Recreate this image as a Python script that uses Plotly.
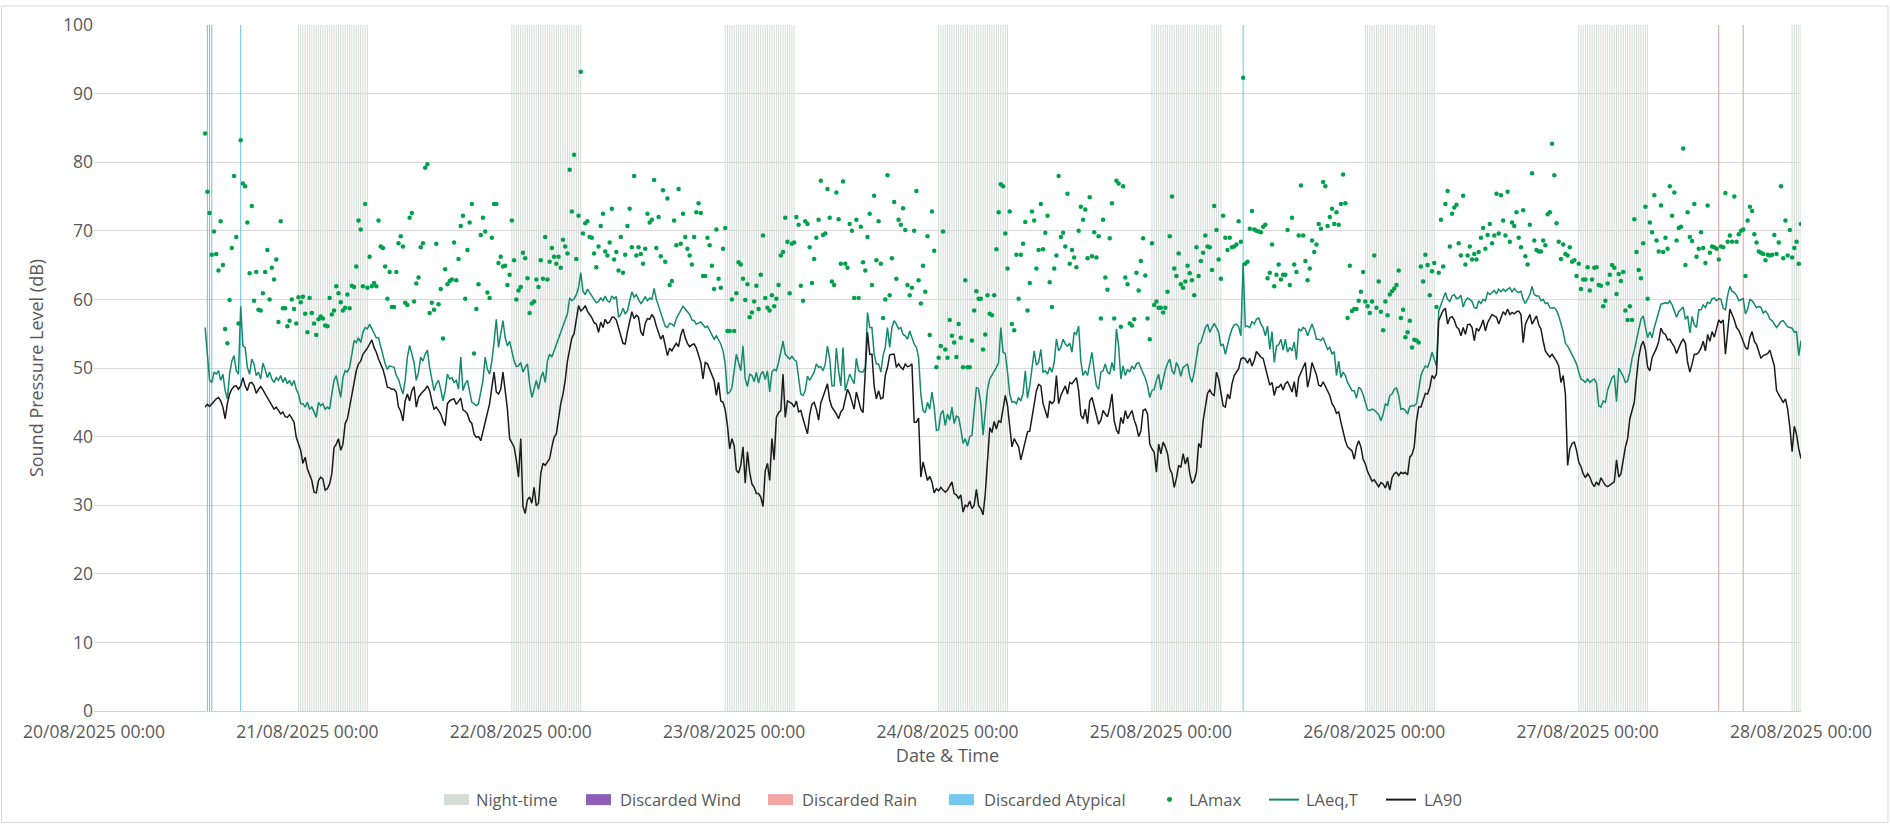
import pandas as pd
import plotly.graph_objects as go

# 15-minute logging interval, first sample 20/08/2025 12:30
START = "2025-08-20 12:30"
STEP = "15min"

LAEQ = [
    # 20/08 12:30 -> 21/08 10:15
    55.9, 52, 48.2, 47.9, 49.4, 49.1, 49.6, 48.2, 49.1, 46.7,
    45.5, 49.1, 51, 51.8, 49.6, 49.1, 59, 53.2, 53, 50.1,
    49.1, 51.3, 50.6, 48.9, 49.4, 48.4, 50.7, 49.8, 48.6, 49.4,
    48.4, 47.9, 48.6, 48.2, 48.9, 47.9, 48.6, 47.7, 48.2, 47.4,
    48.2, 46.9, 46.2, 44.8, 44.8, 44.3, 45, 44, 44.3, 43.6,
    42.8, 45, 44.5, 44.8, 44, 44.3, 44, 46.2, 48.2, 48.9,
    47.4, 45.7, 48.6, 49.6, 49.4, 50.1, 52, 54, 53.7, 54.4,
    53.7, 55.2, 55.9, 55.7, 56.4, 55.7, 54.9, 54.4, 54.4, 53,
    52, 50.6, 49.8, 50.3, 50.2, 50.1, 48.9, 48.4,
    # 21/08 10:30 ->
    47.2, 46.2, 48.2, 51.6, 53.3, 52, 50.8, 48.2, 49.4, 51.6,
    51, 52, 52.6, 50.1, 48.6, 46.7, 47.7, 48.2, 46.9, 45.2,
    46.7, 49.1, 48.4, 48.6, 47.9, 48.2, 46.9, 51.6, 46.7, 47.7,
    48.2, 46.7, 45, 44.8, 44.5, 44.8, 46.7, 48.2, 51.6, 49.8,
    49.1, 51, 53.8, 57.1, 53, 54.9, 56.9, 54.4, 53.2, 53.9,
    52.5, 51, 50.2, 50.3, 50.8, 49.4, 50.1, 50.6, 47.7, 45.7,
    46.9, 48.2, 46.9, 48.6, 49.4, 47.9, 51, 52, 51.6, 52.5,
    53.2, 54.2, 54.9, 56.1, 56.9, 57.9, 60.2, 59.8, 60.1, 60.7,
    61.7, 63.9, 61.2, 60.7, 61.5, 61, 60.4, 59.8, 59.5, 59.7,
    # 22/08 09:00 ->
    60.2, 59.8, 60.5, 59.8, 59.6, 60.5, 60.1, 60.4, 57.4, 57.8,
    58.7, 57.9, 58.3, 59.8, 61.1, 60.3, 60.7, 60, 59.4, 59.8,
    60.4, 59.8, 60.2, 60, 61.6, 60, 59, 58.1, 57, 56.1,
    55.9, 56.5, 56.4, 56.1, 57.2, 57.8, 58.5, 59, 58.6, 58.2,
    57.8, 57, 56.9, 56.4, 56.5, 56.7, 56.3, 55.9, 56.1, 55.4,
    54.8, 54.2, 54.7, 54, 53.5, 52.5, 50.6, 46.2, 46.5, 47.1,
    49.6, 52, 50.8, 49.6, 53.2, 48.4, 47.3, 49.1, 48.9, 48,
    49.4, 47.8, 49.1, 49.5, 48.3, 49.6, 46.5, 49.4, 49.8, 49.6,
    50.8, 52.5, 53.9, 52, 51.6, 51.3, 51.7, 51.2, 51, 48.6,
    # 23/08 07:30 ->
    46.2, 46, 46.7, 48.8, 48.2, 48.8, 49.4, 50.6, 50.1, 50.2,
    49.6, 50.6, 53.2, 51.4, 47.4, 47.4, 52.9, 49.6, 47.4, 53,
    46.7, 47.9, 49.1, 48.4, 47.7, 51.4, 49.6, 49.4, 49.4, 50.1,
    58.1, 55.9, 55.9, 52, 50.6, 50.6, 49.4, 51.8, 53, 55.9,
    53, 55.9, 56.9, 56.4, 55.7, 55.9, 54.9, 54.7, 54.2, 55.4,
    54.4, 53.5, 53, 51.5, 46.2, 43.8, 43.5, 45, 44, 46.5,
    44.3, 40.9, 41, 43.3, 43.8, 41.6, 43.3, 42.4, 44.3, 41.9,
    43, 42.8, 41.1, 39, 39.7, 38.6, 40, 40.2, 43.8, 47.2,
    46.9, 44.8, 40.2, 43.8, 46.9, 48.4, 48.9, 49.6, 50.1, 50.8,
    # 24/08 06:00 ->
    55.9, 52.3, 52.1, 49.4, 46.2, 45, 45.1, 44.8, 45.7, 45.2,
    46.3, 49.6, 45.6, 47.4, 50.1, 52.5, 50.4, 50.8, 52.7, 49.4,
    49.6, 49.1, 50.1, 49.4, 50.8, 54.2, 52.5, 53, 54.2, 53.5,
    53.2, 53.6, 52.3, 55.2, 54.9, 56.1, 51, 48.9, 49.6, 48.9,
    50.6, 52.3, 49.6, 47.4, 46.9, 49.4, 49.6, 50.6, 49.4, 49.1,
    50.8, 49.6, 55.7, 53.2, 48.4, 50.3, 48.9, 49.8, 49.4, 50.3,
    49.8, 50.6, 50.8, 50.1, 49.4, 48.5, 47.4, 45.7, 46.7, 46.9,
    48.2, 49.1, 46.8, 48.5, 49.7, 50.7, 51.3, 49.6, 49.1, 50.8,
    50.1, 48.8, 50.1, 50.3, 50.6, 48.8, 47.9, 49.4, 51.5, 53.5,
    # 25/08 04:30 ->
    53.7, 54.7, 55.9, 56.4, 55.2, 55.9, 56.5, 55.9, 55.2, 53.2,
    53.5, 52, 53.6, 54.7, 55.7, 56.3, 56.4, 56, 54.7, 65.3,
    56, 56.1, 55.9, 56.8, 56.4, 57.1, 57.3, 56.4, 55.9, 54.7,
    56.1, 52.7, 55.3, 50.8, 53.2, 53.4, 54.2, 52.6, 54.2, 52.3,
    53, 52.5, 53.8, 51.2, 55.7, 55.4, 55.9, 55.7, 54.7, 55.7,
    56.4, 55.5, 54.2, 54.2, 54, 54.4, 53.5, 52.7, 53, 52,
    52.4, 48.9, 51, 48.6, 49.4, 48.9, 47.9, 47.3, 46.7, 46.7,
    45.6, 47.2, 46.9, 46.1, 44.8, 43.9, 43.8, 44, 43.9, 43.5,
    43.2, 42.3, 43.3, 44.8, 44.5, 46, 46.2, 46.9, 47.1, 46,
    # 26/08 03:00 ->
    44, 44.1, 43.8, 43.3, 44.4, 44.5, 44.5, 44.8, 47.2, 48.9,
    49.7, 50.3, 50.1, 51, 52.3, 51.3, 50.3, 58.3, 59.2, 60.1,
    61, 60, 59.7, 60.5, 60.7, 60.1, 60.2, 60.6, 58.9, 59.8,
    60.2, 60, 59.7, 58.8, 58.7, 59.8, 59.4, 60, 59.8, 61,
    60.7, 61, 61.3, 60.8, 61.5, 61.1, 61.5, 61.2, 61.5, 61.7,
    61.1, 61.6, 61.2, 61, 61.2, 60, 59.4, 60.1, 60.7, 61.9,
    60.7, 60.5, 60.5, 59.8, 60, 59.4, 59.5, 58.8, 58.7, 58.8,
    58.4, 57.6, 56.5, 55.3, 53.6, 53.2, 52.6, 52, 51.4, 50.6,
    49.4, 48.4, 48.2, 47.9, 48.4, 47.9, 48.2, 48.4, 47.8, 44.5,
    # 27/08 01:30 -> 28/08 00:00
    44.3, 45.2, 45, 46.8, 47.7, 48.6, 48.9, 45.1, 50, 49.4,
    48.8, 47.9, 48.1, 49.4, 51.4, 52.6, 54.2, 55.9, 57.1, 57.6,
    55.7, 54.4, 55.3, 54.4, 55.9, 57.1, 58.3, 59.3, 59.4, 59.5,
    59.4, 59.8, 59.2, 58.4, 57.4, 58.2, 58.5, 58.9, 57.1, 57.6,
    55.1, 57.5, 56.3, 55.9, 58.5, 58.5, 59.2, 58.8, 59.6, 59.4,
    60.1, 60.2, 59.8, 60.1, 60, 58.7, 58.5, 60.6, 61.9, 61.2,
    61, 60.6, 59.8, 60, 60.1, 57.9, 58.6, 60, 59.8, 59.3,
    58.8, 59, 58.8, 58, 58.3, 57.9, 57.1, 56.9, 56.3, 55.9,
    56.3, 56.8, 56.9, 56.5, 56, 55.9, 55.8, 55.2, 55.3, 51.8,
    54,
]

LA90 = [
    44.3, 44.7, 44.4, 44.8, 45.2, 45.5, 45.7, 45.2, 44.3, 42.6,
    44.8, 46.2, 46.9, 47.3, 47.4, 46.9, 47.4, 48.6, 47.4, 46.7,
    47.8, 47.9, 47.4, 46.3, 46.9, 47.3, 46.8, 46.2, 45.6, 45,
    44.5, 44, 44.3, 43.8, 43.3, 43.6, 42.9, 42.8, 43.2, 42.7,
    42.1, 39.9, 39, 38, 36.1, 37, 35.3, 34.4, 33.6, 31.9,
    31.8, 33.6, 34.1, 33.8, 32.2, 32.4, 33.1, 34.6, 38.4, 38.9,
    39.7, 38, 38.9, 41.9, 42.6, 44.3, 46.2, 48.2, 49.6, 50.6,
    51, 52, 52.4, 52.9, 53.5, 54.1, 53, 52.3, 51.3, 50.6,
    49.8, 48.6, 47.2, 47.1, 46.9, 46.9, 46.5, 44.3,
    43.7, 42.3, 45.2, 46.2, 45.2, 46.7, 47.3, 44.3, 45.7, 46.2,
    46.5, 46.9, 47.4, 46.7, 45.2, 44, 44.3, 43.8, 43.3, 42.3,
    41.6, 44.8, 45.2, 45.4, 45.5, 44.7, 45.2, 45.6, 43.9, 43.7,
    43.3, 42.3, 41.9, 40.4, 39.9, 40, 39.4, 40.8, 42.3, 43.6,
    44.8, 47.2, 49.4, 46.5, 46.2, 46.9, 49.4, 46.7, 44, 39.7,
    39, 38.5, 36.6, 34.1, 39.7, 29.8, 28.8, 30.8, 31.2, 30.3,
    32.6, 29.9, 30.3, 34.6, 36.1, 35.8, 36.3, 36.8, 38.5, 39.9,
    40.4, 42.8, 44.8, 46.2, 48.2, 51, 53, 54.4, 55, 56.9,
    59.1, 58.3, 58.6, 59.1, 58.3, 57.8, 57.3, 56.6, 56.4, 55.2,
    56.7, 55.9, 57.1, 56.5, 56.7, 57.4, 57.4, 57, 55.7, 54.7,
    53.6, 53.5, 55.3, 56.7, 58.2, 57.2, 57.7, 57.4, 55.3, 54.7,
    56.5, 57.2, 57.1, 57.8, 57.3, 56.1, 55, 54.2, 54.8, 53.5,
    51.8, 52.9, 52.5, 53.1, 53.6, 53.1, 54.8, 55.7, 54.4, 53.6,
    53.1, 53.4, 53.5, 52.9, 52, 50.8, 48.4, 50.8, 50.6, 49.7,
    49.1, 48.2, 46, 47.9, 45.2, 45, 43.9, 41.6, 38.2, 39.7,
    38.7, 35.1, 34.7, 35.8, 38.5, 33.2, 37.8, 34.8, 33.1, 32.6,
    31.7, 31.7, 31.2, 29.8, 35, 36.1, 33.6, 39.7, 36.6, 42.8,
    43.5, 43.8, 49.1, 42.8, 45.2, 45, 44.8, 44.3, 45.2, 43.6,
    43.8, 42.6, 41.6, 40.4, 43.2, 44.7, 45, 44, 42.4, 44.9,
    45.8, 46.8, 47.7, 45.3, 44.3, 43.8, 43.3, 42.6, 43.6, 44,
    45.7, 46.9, 46.2, 45.2, 44, 46.5, 45.2, 44, 43.5, 49.1,
    55.2, 52, 52, 47.4, 45.5, 46.7, 45.5, 45.7, 48.9, 50.1,
    51.9, 52, 52, 50.1, 50.6, 50.1, 49.8, 50.6, 50.2, 50.3,
    50.6, 42.1, 42.1, 42.7, 34.1, 36.3, 35.1, 33.6, 34.2, 33.4,
    31.8, 32.4, 32.1, 32.6, 32.2, 31.9, 32.2, 32.8, 33.4, 31.7,
    31.5, 31, 31.5, 29, 30, 29.8, 30.6, 29.5, 30, 32.3,
    29.9, 29.5, 28.6, 31.7, 36.3, 41.3, 40.6, 42.2, 41.1, 42.3,
    42.1, 43.8, 46, 44.5, 40.9, 38.5, 39.7, 39, 38.5, 36.6,
    38.1, 39.5, 40.7, 40.8, 42.6, 44.5, 46.7, 47.6, 47.4, 44.8,
    43.8, 42.7, 45.2, 44.8, 45.2, 48.9, 44.8, 46, 46.7, 47.4,
    46.2, 47.9, 47.7, 48.2, 48.6, 46.7, 43.1, 42.6, 44, 41.9,
    45.2, 45.7, 44.3, 42.8, 41.8, 42.4, 43.8, 43.3, 42.9, 44.3,
    46.2, 42.3, 41, 40.4, 42.8, 41.9, 43.8, 42.6, 43.3, 43.8,
    42.4, 41.5, 40, 40.8, 43.8, 44, 43.3, 38.9, 38.2, 37.7,
    34.8, 38.9, 37.5, 39.2, 38.5, 37.5, 35.3, 34.6, 32.6, 33.9,
    35.8, 35.5, 37.5, 36, 37, 34.6, 33.2, 33.6, 34.8, 39,
    38.4, 42.3, 44.3, 46.3, 46.8, 46.2, 46, 49.4, 48.4, 46.7,
    44.5, 44.3, 46.2, 45.5, 47.7, 48.9, 49.4, 49.9, 51.3, 51.5,
    51.3, 50.7, 51.4, 50.3, 51.1, 52.4, 52, 51.6, 51.4, 50.1,
    48.5, 47.5, 47.9, 46, 47.2, 47.2, 47.6, 46.8, 47.7, 48,
    47.3, 46.5, 48, 45.8, 48.6, 49.4, 50, 50.8, 47.2, 48.6,
    50.8, 49.8, 49, 47.5, 47.3, 48, 47.3, 46.5, 46, 44.8,
    44.3, 43.4, 43.6, 42.1, 40.6, 39.4, 38.5, 38.2, 37.9, 36.7,
    38.5, 39.4, 38.5, 36.7, 36, 34.9, 34.3, 33.5, 33.7, 33.2,
    32.7, 33.3, 33.1, 32.5, 33.5, 32.2, 34, 34.6, 34.8, 34.3,
    34.8, 34.6, 34.8, 34.4, 37, 37.4, 38.5, 42.3, 44.3, 44.3,
    45.2, 46.3, 46.2, 47.2, 48.9, 48.5, 49.1, 56.9, 57.7, 58.4,
    58.7, 56.4, 57.3, 57.5, 57, 56, 55.7, 54.7, 55.9, 54.9,
    56.3, 56.4, 55.9, 54, 55.8, 55.4, 56.1, 57, 55.4, 56.6,
    57.2, 57.8, 57.6, 57.4, 56.4, 57.3, 58.2, 57.8, 58.6, 57.8,
    58.1, 57.9, 58.2, 58.3, 57.8, 53.7, 56.4, 57.1, 57.8, 56.4,
    56.9, 57.6, 56.3, 55.7, 53.9, 52.5, 52, 51.6, 52, 51.5,
    51, 50.3, 47.9, 48.9, 46.2, 35.8, 38.2, 39, 39.2, 38,
    36.3, 35.6, 34.6, 34, 34.6, 34.1, 33.2, 32.7, 33.4, 32.9,
    34, 33.4, 32.9, 32.7, 32.9, 33.2, 33.4, 36.6, 34.1, 34.6,
    36.8, 38.5, 39.7, 42.6, 43.8, 45, 48.6, 51.6, 53.2, 53.9,
    52.7, 50.1, 49.6, 51.5, 52.2, 52.9, 53.9, 55.8, 55.1, 54.9,
    54.1, 54.2, 53.6, 53.1, 52.1, 53, 53.7, 54.2, 53.6, 50.8,
    49.4, 50.6, 52, 52, 52.3, 52.9, 53.9, 52.5, 54.9, 53.9,
    55.3, 54.5, 55.9, 57, 56.6, 57, 52, 55.6, 58.6, 57.8,
    57, 55.9, 55.5, 54.7, 53.9, 53, 52.7, 54.5, 55.3, 53.9,
    53.4, 52.5, 51.4, 51.8, 52, 52.1, 52.6, 51.5, 50.3, 46.7,
    46.2, 45.7, 45, 45.5, 44, 41.3, 37.8, 41.5, 40.3, 38.2,
    36.8,
]

LAMAX = [
    84.2, 75.7, 72.6, 66.5, 69.9, 66.6, 64.2, 71.4, 65.0, 55.7,
    53.6, 59.9, 67.5, 78.0, 69.1, 56.5, 83.2, 76.9, 76.5, 71.2,
    63.8, 73.6, 59.8, 64.0, 58.5, 58.4, 60.9, 64.0, 67.2, 60.0,
    64.6, 62.9, 65.8, 56.7, 71.4, 58.7, 58.7, 56.1, 56.9, 60.0,
    58.6, 56.5, 60.3, 59.6, 60.4, 57.9, 55.2, 60.2, 58.0, 56.5,
    54.8, 57.1, 57.5, 57.2, 56.2, 56.1, 60.2, 57.8, 58.4, 61.9,
    60.9, 59.6, 58.4, 58.8, 60.7, 58.7, 62.0, 61.8, 64.8, 71.5,
    70.2, 61.9, 73.9, 61.7, 66.2, 61.9, 62.4, 61.9, 71.5, 67.7,
    67.5, 64.8, 60.1, 64.0, 58.9, 58.9, 64.0, 68.2,
    69.2, 67.7, 59.5, 59.2, 71.9, 72.6, 59.7, 62.3, 63.2, 67.6,
    68.2, 79.2, 79.7, 58.0, 59.5, 58.5, 68.1, 59.3, 61.5, 54.3,
    64.4, 62.2, 62.7, 62.9, 68.3, 62.8, 65.9, 70.7, 72.2, 60.1,
    67.2, 71.2, 73.9, 52.1, 58.6, 62.2, 69.4, 71.9, 69.9, 61.0,
    60.2, 69.0, 73.9, 73.9, 65.3, 66.2, 64.8, 64.9, 62.1, 63.6,
    71.5, 65.7, 60.0, 61.3, 61.8, 66.8, 66.0, 63.1, 58.0, 59.4,
    59.7, 62.9, 61.8, 65.7, 63.0, 69.1, 62.9, 65.5, 67.5, 66.2,
    65.2, 66.2, 64.6, 68.7, 67.7, 66.7, 78.9, 72.8, 81.1, 65.9,
    72.2, 93.2, 69.6, 71.1, 71.4, 69.1, 69.0, 66.7, 64.7, 67.7,
    70.7, 72.5, 67.0, 66.4, 68.3, 73.2, 65.8, 66.9, 64.2, 69.1,
    63.9, 66.5, 70.7, 73.2, 67.6, 78.0, 66.4, 67.6, 66.6, 65.2,
    67.4, 72.5, 71.2, 71.6, 77.4, 67.5, 72.0, 66.3, 75.9, 65.5,
    74.7, 62.1, 62.7, 71.5, 67.9, 76.1, 68.1, 72.5, 69.1, 67.4,
    66.4, 65.1, 69.1, 72.7, 74.0, 72.6, 63.4, 63.4, 69.0, 67.9,
    64.9, 61.5, 70.2, 63.0, 61.7, 67.4, 70.4, 55.4, 55.4, 60.0,
    55.4, 60.9, 65.4, 65.1, 63.0, 59.9, 62.2, 57.4, 58.1, 59.7,
    62.0, 58.6, 63.6, 69.3, 60.2, 58.8, 58.4, 60.6, 59.0, 60.1,
    62.1, 66.4, 66.9, 71.9, 68.4, 60.9, 68.1, 68.3, 72.0, 70.9,
    62.0, 59.8, 71.4, 71.0, 67.6, 62.4, 65.9, 69.0, 71.6, 77.3,
    69.4, 69.6, 76.1, 71.9, 62.6, 62.1, 75.6, 71.7, 65.2, 77.2,
    65.2, 64.6, 71.0, 70.0, 60.2, 71.6, 60.2, 70.6, 65.4, 64.2,
    69.1, 72.5, 62.1, 75.1, 65.7, 71.4, 65.2, 57.3, 60.0, 78.1,
    60.6, 66.0, 74.2, 63.0, 71.6, 70.9, 73.3, 70.1, 62.1, 60.6,
    61.7, 70.0, 75.8, 62.8, 59.4, 64.9, 61.1, 69.2, 54.8, 72.8,
    67.1, 50.1, 51.5, 53.2, 69.9, 52.7, 51.5, 57.0, 54.7, 53.7,
    51.6, 56.4, 54.4, 50.1, 62.8, 50.1, 50.1, 54.0, 58.4, 61.2,
    60.1, 60.1, 52.7, 54.9, 60.6, 57.9, 57.7, 60.6, 67.3, 72.7,
    76.8, 76.5, 69.6, 64.5, 72.8, 56.4, 55.5, 66.5, 60.1, 66.5,
    68.1, 71.3, 58.4, 62.4, 72.8, 71.5, 64.5, 67.2, 73.9, 67.3,
    69.7, 72.2, 62.5, 58.9, 64.5, 66.4, 78.0, 69.1, 69.7, 67.7,
    75.4, 65.2, 67.2, 66.1, 64.7, 70.0, 73.5, 71.6, 73.1, 66.0,
    74.9, 66.3, 69.8, 66.1, 69.2, 57.2, 71.6, 63.2, 61.4, 68.9,
    74.0, 57.2, 77.3, 76.9, 56.0, 76.5, 63.2, 62.2, 56.5, 56.2,
    57.1, 63.9, 61.3, 65.6, 68.9, 63.5, 57.2, 54.2, 68.2, 59.2,
    59.7, 58.8, 58.8, 58.1, 58.8, 61.1, 69.2, 75.0, 64.5, 63.4,
    66.7, 62.2, 61.7, 62.6, 64.9, 63.8, 62.8, 60.6, 67.6, 63.4,
    65.6, 66.8, 69.3, 67.7, 67.6, 64.3, 73.6, 70.1, 65.8, 63.0,
    72.2, 69.0, 67.2, 69.0, 67.6, 67.7, 68.0, 71.4, 68.4, 92.3,
    65.2, 65.5, 70.3, 72.9, 70.2, 70.0, 69.9, 69.8, 70.6, 70.9,
    63.1, 63.9, 68.0, 61.9, 63.6, 65.1, 62.9, 63.6, 63.6, 70.1,
    62.1, 71.9, 65.1, 64.0, 69.3, 76.6, 69.3, 65.6, 62.8, 64.5,
    68.6, 66.9, 68.0, 71.0, 70.3, 77.1, 76.5, 70.7, 72.0, 73.2,
    71.0, 72.7, 70.9, 73.9, 78.2, 74.0, 57.3, 64.9, 58.3, 58.6,
    58.6, 59.8, 61.1, 64.0, 59.7, 59.0, 58.0, 59.7, 66.4, 58.8,
    62.6, 58.2, 55.5, 59.7, 57.7, 60.7, 61.2, 61.6, 62.1, 64.2,
    57.3, 58.5, 54.5, 55.2, 56.9, 53.0, 54.1, 54.0, 53.7, 64.8,
    62.6, 66.5, 65.0, 60.6, 64.1, 65.3, 58.9, 63.9, 71.6, 64.8,
    73.9, 75.8, 67.7, 72.5, 73.4, 73.8, 68.2, 66.4, 75.1, 65.1,
    66.4, 67.7, 65.8, 66.6, 65.8, 66.9, 69.0, 70.4, 67.4, 69.4,
    71.0, 68.2, 69.3, 75.4, 69.6, 75.2, 71.5, 69.3, 75.7, 68.4,
    71.2, 70.7, 72.7, 69.0, 67.6, 73.0, 66.3, 65.1, 70.9, 78.4,
    68.6, 67.2, 67.0, 67.0, 68.6, 67.9, 72.4, 72.7, 82.7, 78.1,
    71.1, 68.4, 65.9, 68.0, 66.6, 66.4, 67.6, 65.5, 65.7, 63.4,
    65.2, 61.5, 62.9, 62.9, 64.7, 61.3, 62.9, 64.6, 64.7, 62.1,
    62.0, 59.0, 59.8, 62.3, 63.6, 65.0, 64.6, 60.8, 63.7, 62.7,
    64.0, 58.4, 57.0, 59.0, 57.0, 71.7, 66.9, 64.3, 63.1, 68.2,
    73.5, 60.1, 71.2, 69.8, 75.2, 68.6, 67.0, 73.7, 66.9, 69.0,
    67.4, 76.5, 72.2, 75.6, 68.6, 70.4, 70.6, 82.0, 65.0, 72.7,
    69.1, 68.5, 73.9, 66.2, 67.4, 69.8, 67.5, 65.3, 73.7, 66.8,
    67.7, 67.6, 67.4, 65.8, 67.7, 67.6, 75.5, 68.4, 69.3, 68.4,
    75.0, 68.4, 69.5, 70.0, 70.2, 63.4, 71.5, 73.5, 72.9, 69.5,
    68.3, 67.0, 66.8, 66.6, 65.7, 66.5, 66.4, 66.5, 69.4, 66.6,
    68.3, 76.5, 66.0, 71.5, 66.4, 70.1, 66.1, 67.5, 68.4, 65.2,
    71.0,
]

# flagged periods (one column per 15-minute interval)
DISCARDED_WIND = []
DISCARDED_RAIN = ["2025-08-27 14:45", "2025-08-27 17:30"]
DISCARDED_ATYPICAL = ["2025-08-20 12:45", "2025-08-20 13:00", "2025-08-20 13:15",
                      "2025-08-20 16:30", "2025-08-25 09:15"]
NIGHT_FROM, NIGHT_TO = 23, 7

assert len(LAEQ) == len(LA90) == len(LAMAX), (len(LAEQ), len(LA90), len(LAMAX))

times = pd.date_range(START, periods=len(LAEQ), freq=STEP)
night = [t for t in times if t.hour >= NIGHT_FROM or t.hour < NIGHT_TO]

FONT = "Open Sans"
GREY = "#595959"
C_NIGHT, C_WIND, C_RAIN, C_ATYP = "#d3dcd6", "#8e5eb8", "#f2a5a5", "#74c8ee"
C_MAX, C_EQ, C_90 = "#00a14b", "#138a6c", "#1b1b1b"


def flag_lines(xs, color, width=1):
    # thin full-height columns, one per flagged 15-minute interval
    lx, ly = [], []
    for t in pd.to_datetime(xs):
        lx += [t, t, None]
        ly += [0, 100, None]
    return go.Scatter(x=lx, y=ly, mode="lines", line=dict(color=color, width=width),
                      hoverinfo="skip", showlegend=False)


fig = go.Figure()
fig.add_trace(flag_lines(night, C_NIGHT))
fig.add_trace(flag_lines(DISCARDED_WIND, C_WIND))
fig.add_trace(flag_lines(DISCARDED_RAIN, "#e59c9c"))
fig.add_trace(flag_lines(DISCARDED_ATYPICAL, "#6bc3ec", 1))
fig.add_trace(go.Scatter(x=times, y=LAMAX, name="LAmax", mode="markers",
                         marker=dict(color=C_MAX, size=4.5), showlegend=False))
fig.add_trace(go.Scatter(x=times, y=LAEQ, name="LAeq,T", mode="lines",
                         line=dict(color=C_EQ, width=1.5), showlegend=False))
fig.add_trace(go.Scatter(x=times, y=LA90, name="LA90", mode="lines",
                         line=dict(color=C_90, width=1.5), showlegend=False))

W, H = 1890, 826
L, R, T, B = 94, 89, 22, 115
pw, ph = W - L - R, H - T - B


def px(x):
    return (x - L) / pw


def py(y):
    return (T + ph - y) / ph


# legend drawn as swatches + labels below the axis title
LEG_Y = 800
legend_items = [
    ("Night-time", "box", C_NIGHT, 444, 474),
    ("Discarded Wind", "box", C_WIND, 586, 618),
    ("Discarded Rain", "box", C_RAIN, 768, 800),
    ("Discarded Atypical", "box", C_ATYP, 949, 982),
    ("LAmax", "dot", C_MAX, 1158, 1187),
    ("LAeq,T", "line", C_EQ, 1269, 1304),
    ("LA90", "line", C_90, 1386, 1422),
]
shapes = [dict(type="rect", xref="paper", yref="paper",
               x0=px(1.5), x1=px(1888), y0=py(823), y1=py(3),
               line=dict(color="#d9d9d9", width=1), layer="below")]
annotations = []
for label, kind, color, x_sym, x_txt in legend_items:
    if kind == "box":
        shapes.append(dict(type="rect", xref="paper", yref="paper",
                           x0=px(x_sym), x1=px(x_sym + 25),
                           y0=py(LEG_Y + 5.5), y1=py(LEG_Y - 5.5),
                           fillcolor=color, line=dict(width=0)))
    elif kind == "dot":
        shapes.append(dict(type="circle", xref="paper", yref="paper",
                           x0=px(x_sym + 9), x1=px(x_sym + 14),
                           y0=py(LEG_Y + 2.5), y1=py(LEG_Y - 2.5),
                           fillcolor=color, line=dict(width=0)))
    else:
        shapes.append(dict(type="line", xref="paper", yref="paper",
                           x0=px(x_sym), x1=px(x_sym + 30),
                           y0=py(LEG_Y), y1=py(LEG_Y),
                           line=dict(color=color, width=2)))
    annotations.append(dict(text=label, xref="paper", yref="paper",
                            x=px(x_txt), y=py(LEG_Y), xanchor="left", yanchor="middle",
                            showarrow=False, font=dict(size=16.5, color=GREY)))

fig.update_layout(
    width=W, height=H,
    margin=dict(l=L, r=R, t=T, b=B),
    paper_bgcolor="white", plot_bgcolor="white",
    font=dict(family=FONT, size=16, color=GREY),
    showlegend=False,
    xaxis=dict(
        type="date", range=["2025-08-20 00:00", "2025-08-28 00:00"],
        dtick=86400000, tick0="2025-08-20", tickformat="%d/%m/%Y %H:%M",
        showgrid=False, showline=True, linecolor="#d0d0d0", linewidth=1,
        ticks="", tickfont=dict(size=17.5, color=GREY), ticklabelstandoff=5,
        title=dict(text="Date & Time", font=dict(size=18, color=GREY), standoff=7),
    ),
    yaxis=dict(
        range=[0, 100], dtick=10, showgrid=True, gridcolor="#d9d9d9", gridwidth=1,
        zeroline=False, showline=False, ticks="",
        tickfont=dict(size=17.5, color=GREY),
        title=dict(text="Sound Pressure Level (dB)", font=dict(size=18, color=GREY),
                   standoff=14),
    ),
    shapes=shapes,
    annotations=annotations,
)

# the page body's default 8px margin would shift the chart off the 1890x826 window
fig.write_html("out.html", config={"displayModeBar": False},
               post_script="document.body.style.margin='0';")
